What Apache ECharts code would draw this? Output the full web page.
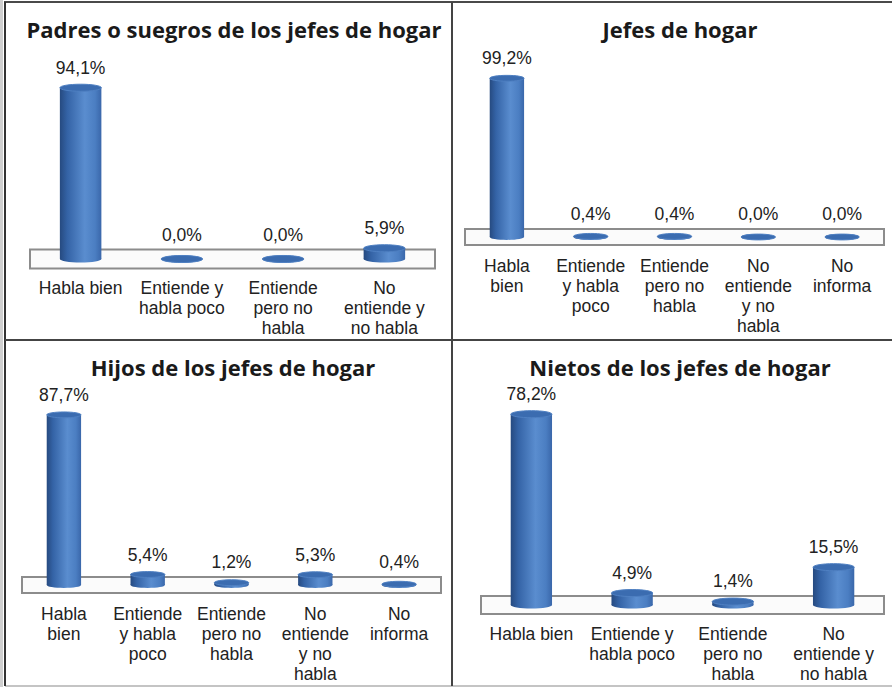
<!DOCTYPE html>
<html>
<head>
<meta charset="utf-8">
<script src="https://cdn.jsdelivr.net/npm/echarts@6/dist/echarts.min.js"></script>
<style>
  html, body { margin: 0; padding: 0; background: #fff; }
  #chart { width: 892px; height: 687px; }
</style>
</head>
<body>
<div id="chart"></div>
<script>
  // datos de cada panel
  const titles = [
    'Padres o suegros de los jefes de hogar',
    'Jefes de hogar',
    'Hijos de los jefes de hogar',
    'Nietos de los jefes de hogar'
  ];
  const catsPadres = ['Habla bien', 'Entiende y\nhabla poco', 'Entiende\npero no\nhabla', 'No\nentiende y\nno habla'];
  const valsPadres = [94.1, 0.0, 0.0, 5.9];
  const catsJefes = ['Habla\nbien', 'Entiende\ny habla\npoco', 'Entiende\npero no\nhabla', 'No\nentiende\ny no\nhabla', 'No\ninforma'];
  const valsJefes = [99.2, 0.4, 0.4, 0.0, 0.0];
  const catsHijos = ['Habla\nbien', 'Entiende\ny habla\npoco', 'Entiende\npero no\nhabla', 'No\nentiende\ny no\nhabla', 'No\ninforma'];
  const valsHijos = [87.7, 5.4, 1.2, 5.3, 0.4];
  const catsNietos = ['Habla bien', 'Entiende y\nhabla poco', 'Entiende\npero no\nhabla', 'No\nentiende y\nno habla'];
  const valsNietos = [78.2, 4.9, 1.4, 15.5];

  const cats = [catsPadres, catsJefes, catsHijos, catsNietos];
  const vals = [valsPadres, valsJefes, valsHijos, valsNietos];

  // posicion de cada grafico (base = linea del piso)
  const layout = [
    { left: 30, width: 405, base: 259, height: 182, depth: 19, titleX: 229, titleY: 13 },
    { left: 465, width: 419, base: 237, height: 160, depth: 16, titleX: 675, titleY: 13 },
    { left: 22, width: 419, base: 585, height: 194, depth: 16, titleX: 228, titleY: 351 },
    { left: 481, width: 403, base: 605, height: 244, depth: 18, titleX: 675, titleY: 351 }
  ];

  const font = 'Liberation Sans, Arial, sans-serif';

  function fmt(v) {
    return v.toFixed(1).replace('.', ',') + '%';
  }

  function cylinder(depth) {
    return function (params, api) {
      const i = api.value(0);
      const v = api.value(1);
      const base = api.coord([i, 0]);
      const top = api.coord([i, v]);
      const bw = api.size([1, 0])[0] * 0.41;
      const ry = bw * 0.085;
      const x0 = base[0] - bw / 2;
      const body = new echarts.graphic.LinearGradient(0, 0, 1, 0, [
        { offset: 0, color: '#264a80' },
        { offset: 0.18, color: '#3463a6' },
        { offset: 0.6, color: '#5a8dcf' },
        { offset: 0.85, color: '#4b7ec2' },
        { offset: 1, color: '#3a67aa' }
      ]);
      const children = [];
      const floorTop = base[1] - depth / 2;
      if (params.dataIndex === 0) {
        const cs = params.coordSys;
        children.push({
          type: 'rect',
          shape: { x: cs.x, y: floorTop, width: cs.width, height: depth },
          style: { fill: '#fbfbfb', stroke: '#8c8c8c', lineWidth: 2 }
        });
      }
      children.push({
        type: 'ellipse',
        shape: { cx: base[0], cy: base[1], rx: bw / 2, ry: ry },
        style: { fill: body }
      });
      children.push({
        type: 'rect',
        shape: { x: x0, y: top[1], width: bw, height: base[1] - top[1] },
        style: { fill: body }
      });
      children.push({
        type: 'ellipse',
        shape: { cx: top[0], cy: top[1], rx: bw / 2, ry: ry },
        style: { fill: '#3b6cb0', stroke: '#4f80c2', lineWidth: 1 }
      });
      children.push({
        type: 'text',
        style: {
          text: fmt(v),
          x: top[0],
          y: Math.min(top[1] - 11, floorTop - 6),
          align: 'center',
          verticalAlign: 'bottom',
          fontSize: 17.5,
          fontFamily: font,
          fill: '#222'
        }
      });
      return { type: 'group', children: children };
    };
  }

  const grid = [], xAxis = [], yAxis = [], series = [], title = [];
  layout.forEach(function (p, k) {
    grid.push({ left: p.left, top: p.base - p.height, width: p.width, height: p.height });
    xAxis.push({
      type: 'category',
      gridIndex: k,
      data: cats[k],
      axisLine: { show: false },
      axisTick: { show: false },
      splitLine: { show: false },
      axisLabel: {
        interval: 0,
        margin: 19,
        fontSize: 17.5,
        lineHeight: 20,
        color: '#222',
        fontFamily: font
      }
    });
    yAxis.push({ type: 'value', gridIndex: k, min: 0, max: 100, show: false });
    series.push({
      type: 'custom',
      xAxisIndex: k,
      yAxisIndex: k,
      renderItem: cylinder(p.depth),
      encode: { x: 0, y: 1 },
      data: vals[k].map(function (v, i) { return [i, v]; })
    });
    title.push({
      text: titles[k],
      left: p.titleX,
      top: p.titleY,
      textAlign: 'center',
      textStyle: { fontSize: 22, fontWeight: 'bold', color: '#1a1a1a', fontFamily: 'Open Sans' }
    });
  });

  const chart = echarts.init(document.getElementById('chart'), null, { renderer: 'svg' });
  chart.setOption({
    animation: false,
    title: title,
    grid: grid,
    xAxis: xAxis,
    yAxis: yAxis,
    series: series,
    graphic: [
      { type: 'line', shape: { x1: 1.5, y1: 0, x2: 1.5, y2: 687 }, style: { stroke: '#cfcfcf', lineWidth: 3 } },
      { type: 'line', shape: { x1: 5, y1: 686, x2: 892, y2: 686 }, style: { stroke: '#c4c4c4', lineWidth: 2 } },
      { type: 'line', shape: { x1: 4, y1: 2, x2: 892, y2: 2 }, style: { stroke: '#4a4a4a', lineWidth: 2 } },
      { type: 'line', shape: { x1: 5, y1: 2, x2: 5, y2: 686 }, style: { stroke: '#333', lineWidth: 2 } },
      { type: 'line', shape: { x1: 452, y1: 2, x2: 452, y2: 686 }, style: { stroke: '#444', lineWidth: 2 } },
      { type: 'line', shape: { x1: 5, y1: 340, x2: 892, y2: 340 }, style: { stroke: '#444', lineWidth: 2 } }
    ]
  });
</script>
</body>
</html>
